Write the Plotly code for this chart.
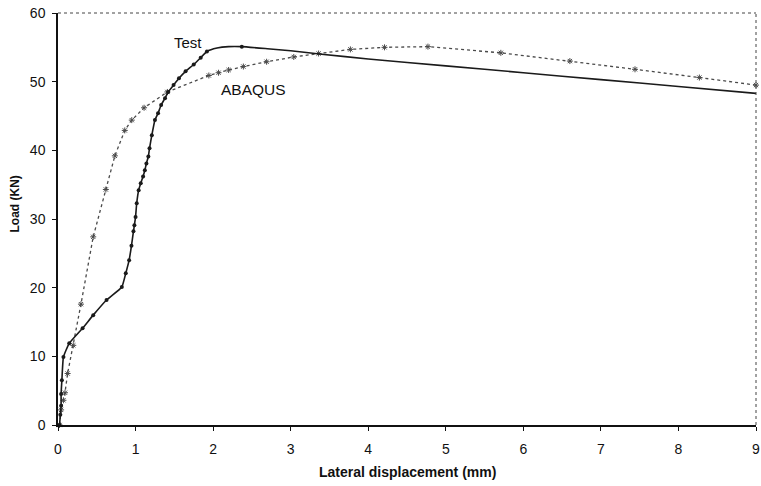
import plotly.graph_objects as go

# Test curve (solid, filled markers)
test_x = [0.02, 0.03, 0.04, 0.04, 0.05, 0.07, 0.145, 0.317, 0.454, 0.626, 0.823, 0.874, 0.917,
          0.947, 0.973, 0.985, 1.0, 1.015, 1.04, 1.067, 1.097, 1.12, 1.14, 1.165, 1.18, 1.21,
          1.25, 1.29, 1.33, 1.38, 1.42, 1.49, 1.56, 1.645, 1.75, 1.84, 1.92, 2.05, 2.2, 2.37,
          2.7, 3.0, 3.4, 4.0, 5.0, 6.0, 7.0, 8.0, 9.0]
test_y = [0.0, 1.5, 2.8, 4.5, 6.5, 9.9, 11.9, 14.1, 16.0, 18.2, 20.1, 22.1, 24.0,
          26.1, 28.2, 29.1, 30.3, 32.3, 34.2, 35.2, 36.2, 37.1, 38.1, 39.1, 40.3, 42.2,
          44.4, 45.4, 46.6, 47.6, 48.5, 49.5, 50.5, 51.5, 52.5, 53.5, 54.4, 54.9, 55.1, 55.1,
          54.8, 54.5, 54.0, 53.3, 52.3, 51.3, 50.3, 49.3, 48.3]
test_marker_x = [0.02, 0.03, 0.04, 0.04, 0.05, 0.07, 0.145, 0.317, 0.454, 0.626, 0.823, 0.874,
                 0.917, 0.947, 0.973, 0.985, 1.0, 1.015, 1.04, 1.067, 1.097, 1.12, 1.14, 1.165,
                 1.18, 1.21, 1.25, 1.29, 1.33, 1.38, 1.42, 1.49, 1.56, 1.645, 1.75, 1.84, 1.92, 2.37]
test_marker_y = [0.0, 1.5, 2.8, 4.5, 6.5, 9.9, 11.9, 14.1, 16.0, 18.2, 20.1, 22.1,
                 24.0, 26.1, 28.2, 29.1, 30.3, 32.3, 34.2, 35.2, 36.2, 37.1, 38.1, 39.1,
                 40.3, 42.2, 44.4, 45.4, 46.6, 47.6, 48.5, 49.5, 50.5, 51.5, 52.5, 53.5, 54.4, 55.1]

# ABAQUS curve (dotted, open markers)
abq_x = [0.02, 0.04, 0.07, 0.09, 0.124, 0.197, 0.296, 0.454, 0.617, 0.733, 0.861, 0.951,
         1.11, 1.41, 1.945, 2.07, 2.2, 2.39, 2.69, 3.04, 3.36, 3.77, 4.21, 4.77, 5.71,
         6.6, 7.44, 8.27, 9.0]
abq_y = [0.0, 2.2, 3.6, 4.7, 7.5, 11.6, 17.6, 27.4, 34.3, 39.2, 42.9, 44.4,
         46.2, 48.5, 50.9, 51.3, 51.7, 52.2, 52.9, 53.6, 54.1, 54.7, 55.0, 55.1, 54.2,
         53.0, 51.8, 50.6, 49.5]

x_ticks = [0, 1, 2, 3, 4, 5, 6, 7, 8, 9]
y_ticks = [0, 10, 20, 30, 40, 50, 60]

fig = go.Figure()
fig.add_trace(go.Scatter(x=abq_x, y=abq_y, mode="lines+markers",
                         line=dict(color="#4a4a4a", width=1.3, dash="dot"),
                         marker=dict(symbol="asterisk-open", size=5,
                                     line=dict(color="#444444", width=1)),
                         showlegend=False, cliponaxis=False))
fig.add_trace(go.Scatter(x=test_x, y=test_y, mode="lines",
                         line=dict(color="#1a1a1a", width=1.6, shape="spline", smoothing=0.4),
                         showlegend=False, cliponaxis=False))
fig.add_trace(go.Scatter(x=test_marker_x, y=test_marker_y, mode="markers",
                         marker=dict(symbol="circle", size=4, color="#1a1a1a"),
                         showlegend=False, cliponaxis=False))

font_main = "Liberation Sans, Arial, sans-serif"
fig.add_annotation(x=1.68, y=55.7, text="Test", showarrow=False,
                   font=dict(family=font_main, size=15, color="#111"),
                   xanchor="center", yanchor="middle")
fig.add_annotation(x=2.52, y=48.8, text="ABAQUS", showarrow=False,
                   font=dict(family=font_main, size=15.5, color="#111"),
                   xanchor="center", yanchor="middle")

# axis titles
fig.add_annotation(xref="paper", yref="paper", x=0.5, y=-0.113, text="<b>Lateral displacement (mm)</b>",
                   showarrow=False, font=dict(family=font_main, size=14, color="#111"),
                   xanchor="center", yanchor="middle")
fig.add_annotation(xref="paper", yref="paper", x=-0.062, y=0.537, text="<b>Load (KN)</b>",
                   showarrow=False, textangle=-90, font=dict(family=font_main, size=12, color="#111"),
                   xanchor="center", yanchor="middle")

# dotted top/right frame
fig.add_shape(type="line", xref="paper", yref="paper", x0=0, x1=1, y0=1, y1=1,
              line=dict(color="#444", width=1, dash="dot"))
fig.add_shape(type="line", xref="paper", yref="paper", x0=1, x1=1, y0=0, y1=1,
              line=dict(color="#444", width=1, dash="dot"))

fig.update_layout(
    width=761, height=486,
    margin=dict(l=58, r=5, t=13, b=61),
    paper_bgcolor="white", plot_bgcolor="white",
    font=dict(family=font_main, size=14, color="#111"),
    xaxis=dict(range=[0, 9], tickvals=x_ticks, ticks="outside", ticklen=4,
               tickcolor="#111", showline=True, linecolor="#111", linewidth=1.5,
               showgrid=False, zeroline=False, automargin=False, ticklabelstandoff=6),
    yaxis=dict(range=[0, 60], tickvals=y_ticks, ticks="outside", ticklen=4,
               tickcolor="#111", showline=True, linecolor="#111", linewidth=1.5,
               showgrid=False, zeroline=False, automargin=False, ticklabelstandoff=4),
)

fig.write_html("out.html")
